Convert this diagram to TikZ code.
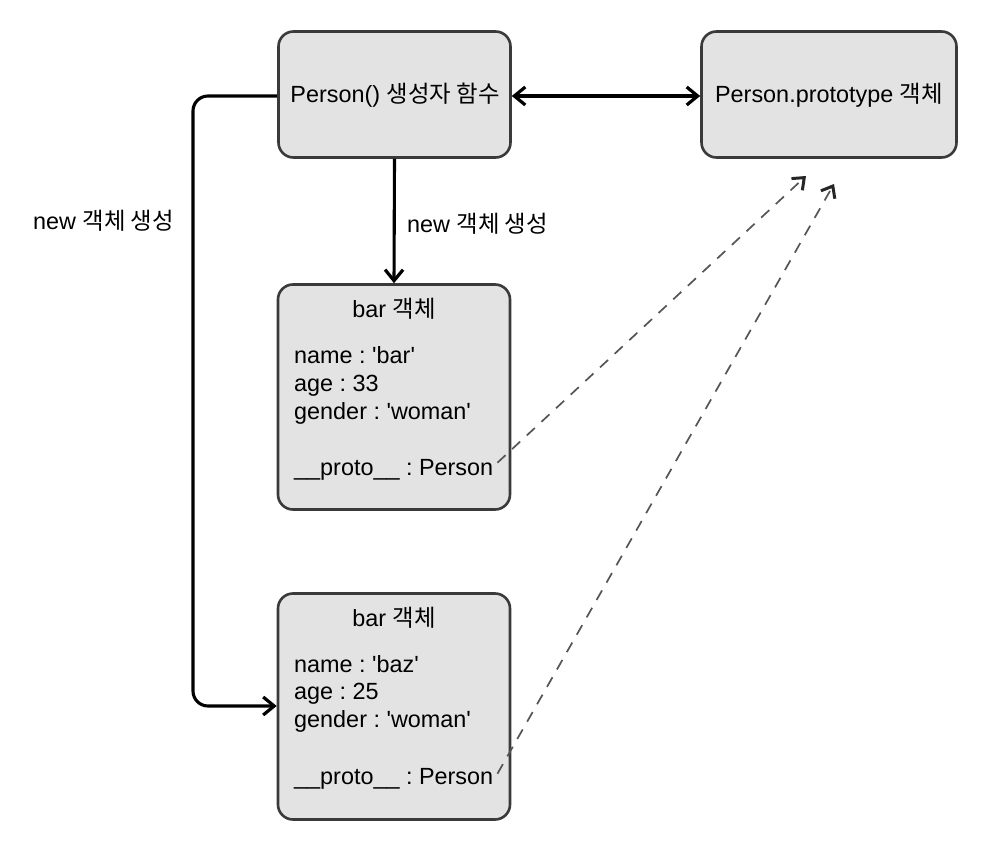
\documentclass[tikz,border=0pt]{standalone}
\usepackage{fontspec}
\setmainfont{Liberation Sans}
\newfontfamily\kr{Noto Sans CJK KR}
\usetikzlibrary{arrows.meta}
\definecolor{boxfill}{HTML}{E3E3E3}
\definecolor{boxline}{HTML}{3A3A3A}
\definecolor{dashcol}{HTML}{555555}
\frenchspacing
\begin{document}
\begin{tikzpicture}[x=1pt,y=-1pt,
  box/.style={draw=boxline, fill=boxfill, line width=2.6pt, rounded corners=15pt,
    minimum width=232pt, inner sep=0pt},
  txt/.style={font=\fontsize{23.4}{27}\selectfont\frenchspacing, inner sep=0pt, anchor=base west},
  ctxt/.style={font=\fontsize{23.4}{27}\selectfont\frenchspacing, inner sep=0pt, anchor=base},
  barb/.style={-{Straight Barb[length=11pt,width=18pt,line width=3.2pt]}},
  dbarb/.style={{Straight Barb[length=11pt,width=18pt,line width=3.2pt]}-{Straight Barb[length=11pt,width=18pt,line width=3.2pt]}},
  conn/.style={line width=3.1pt, black},
  dashln/.style={dashcol, line width=1.7pt, dash pattern=on 11pt off 9pt,
    -{Straight Barb[length=10pt,width=16pt,line width=3pt,color=black!85]}}
]
\useasboundingbox (0,0) rectangle (996,856);
\fill[white] (0,0) rectangle (996,856);

% boxes
\node[box, minimum height=126pt] (person) at (394.5,94.5) {};
\node[box, minimum width=255pt, minimum height=126pt] (proto) at (829,94.5) {};
\node[box, minimum height=225pt] (bar) at (394,397) {};
\node[box, minimum height=226pt] (baz) at (394,706.5) {};

% texts of top boxes
\node[ctxt] (persontxt) at (395,103) {Person() {\kr 생성자 함수}};
\node[ctxt] (prototxt) at (829,103) {Person.prototype {\kr 객체}};

% bar box texts
\node[ctxt] (bartitle) at (394,317) {bar {\kr 객체}};
\node[txt] (barname) at (294,363) {name : \textquotesingle bar\textquotesingle};
\node[txt] (barage) at (294,391) {age : 33};
\node[txt] (bargender) at (294,419) {gender : \textquotesingle woman\textquotesingle};
\node[txt] (barproto) at (294,475) {\_\_proto\_\_ : Person};

% baz box texts
\node[ctxt] (baztitle) at (394,626) {bar {\kr 객체}};
\node[txt] (bazname) at (294,672) {name : \textquotesingle baz\textquotesingle};
\node[txt] (bazage) at (294,699) {age : 25};
\node[txt] (bazgender) at (294,727) {gender : \textquotesingle woman\textquotesingle};
\node[txt] (bazproto) at (294,784) {\_\_proto\_\_ : Person};

% labels
\node[txt] (lblleft) at (33,229) {new {\kr 객체 생성}};
\node[txt] (lblmid) at (407,232) {new {\kr 객체 생성}};

% connectors
\draw[conn, dbarb] (person.east |- 0,96) -- (proto.west |- 0,96);
\draw[conn, barb] (person.south) -- (bar.north);
\draw[conn, barb, rounded corners=15pt]
  (person.west |- 0,96) -- (193,96) -- (193,706) -- (baz.west |- 0,706);

% dashed prototype links
\coordinate (end1) at (806,176);
\coordinate (end2) at (834,184);
\draw[dashln] ([xshift=4pt,yshift=-4pt]barproto.north east) -- (end1);
\draw[dashln] ([xshift=4pt,yshift=-6pt]bazproto.north east) -- (end2);
\end{tikzpicture}
\end{document}
